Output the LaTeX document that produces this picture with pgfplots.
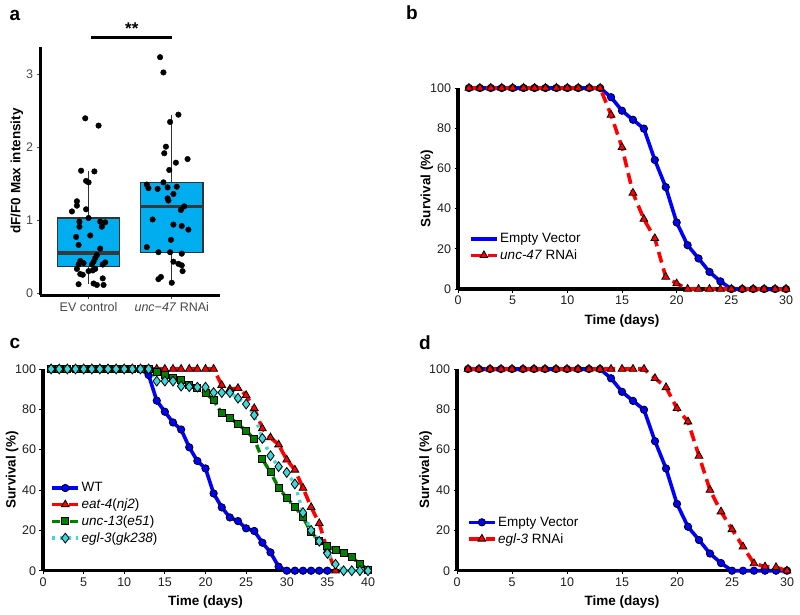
\documentclass[border=0pt]{standalone}
\usepackage{fontspec}
\setmainfont{Liberation Sans}
\usepackage{pgfplots}
\pgfplotsset{compat=1.18}
\usepgfplotslibrary{statistics}
\definecolor{boxblue}{RGB}{0,174,239}
\definecolor{cgreen}{RGB}{0,128,0}
\definecolor{ccyan}{RGB}{64,214,214}

\pgfplotstableread{
x y
1 100
2 100
3 100
4 100
5 100
6 100
7 100
8 100
9 100
10 100
11 100
12 100
13 100
14 95.4
15 88.7
16 84.2
17 79.8
18 64.2
19 50.7
20 33.1
21 21.8
22 15.2
23 8.5
24 3.8
25 0
26 0
27 0
28 0
29 0
30 0
}\evtab

\pgfplotstableread{
x y
1 100
2 100
3 100
4 100
5 100
6 100
7 100
8 100
9 100
10 100
11 100
12 100
13 100
14 86.6
15 70.5
16 47.8
17 34.8
18 25.2
19 6.0
20 2.7
21 0
22 0
23 0
24 0
25 0
26 0
27 0
28 0
29 0
30 0
}\unctab

\pgfplotstableread{
x y
1 100
2 100
3 100
4 100
5 100
6 100
7 100
8 100
9 100
10 100
11 100
12 100
13 97
14 84.3
15 78.8
16 73.5
17 70
18 61.2
19 54.4
20 50.7
21 38.3
22 31.4
23 26.4
24 24.6
25 21
26 19.7
27 13.9
28 9.1
29 2
30 0
31 0
32 0
33 0
34 0
35 0
}\wttab

\pgfplotstableread{
x y
1 100
2 100
3 100
4 100
5 100
6 100
7 100
8 100
9 100
10 100
11 100
12 100
13 100
14 100
15 100
16 100
17 100
18 100
19 100
20 100
21 100
22 92
23 90
24 90.5
25 87
26 80.5
27 70.5
28 66
29 62.5
30 55
31 50
32 41
33 31.5
34 23.5
35 10
36 0
}\eattab

\pgfplotstableread{
x y
1 100
2 100
3 100
4 100
5 100
6 100
7 100
8 100
9 100
10 100
11 100
12 100
13 100
14 98.7
15 97
16 95.5
17 94.5
18 92
19 90.5
20 88
21 84.6
22 78
23 76
24 72.6
25 69.4
26 65.3
27 55.3
28 48.8
29 41.2
30 36
31 31.7
32 26.6
33 19
34 14.7
35 12.2
36 10.1
37 9
38 6.7
39 3.4
40 0.5
}\unctthtab

\pgfplotstableread{
x y
1 100
2 100
3 100
4 100
5 100
6 100
7 100
8 100
9 100
10 100
11 100
12 100
13 100
14 94
15 94
16 94
17 91.5
18 91.2
19 91
20 91
21 88.3
22 88.3
23 88.3
24 85.5
25 82.6
26 77.2
27 65.6
28 57
29 51.6
30 48.7
31 43
32 28.8
33 20
34 14.6
35 8.6
36 3.2
37 0
38 0
39 0
40 0
}\egltab

\pgfplotstableread{
x y
1 100
2 100
3 100
4 100
5 100
6 100
7 100
8 100
9 100
10 100
11 100
12 100
13 100
14 100
15 100
16 100
17 100
18 95.4
19 90.9
20 80.5
21 73.9
22 56.9
23 40
24 29.3
25 20.5
26 11.9
27 3.6
28 2
29 1.7
30 0
}\eglrnaitab

\pgfplotsset{
  panel/.style={
    scale only axis, anchor=south west, clip=false,
    axis x line*=bottom, axis y line*=left,
    axis line style={-, line width=3.3pt, black},
    tick style={black, line width=0.9pt},
    major tick length=3.5pt,
    tick align=outside,
    ticklabel style={font=\fontsize{12.5}{14}\selectfont, text=black!88},
    /pgf/number format/assume math mode=true,
    label style={font=\bfseries\fontsize{13.5}{15}\selectfont},
    legend style={draw=none, fill=none, font=\fontsize{13.5}{15}\selectfont,
      row sep=2.5pt, inner sep=0pt, anchor=north west,
      nodes={inner sep=1.5pt}},
    legend cell align=left,
    legend image code/.code={\draw[mark repeat=2,mark phase=2,##1] plot coordinates {(0pt,0pt) (13pt,0pt) (26pt,0pt)};},
  },
  surv/.style={panel, xmin=0, ymin=0, ymax=100, ytick={0,20,...,100},
    ylabel={Survival (\%)}, xlabel={Time (days)},
    ylabel style={at={(axis description cs:-0.095,0.5)}, anchor=center},
    xlabel style={at={(axis description cs:0.5,-0.157)}, anchor=center},
  },
  bluel/.style={blue, line width=3.6pt, mark=*, mark size=3.7pt,
    mark options={solid, draw=black, line width=0.8pt, fill=blue}},
  redl/.style={red, line width=3.6pt, dash pattern=on 11pt off 6pt, mark=triangle*, mark size=4.5pt,
    mark options={solid, draw=black, line width=0.8pt, fill=red}},
  greenl/.style={cgreen, line width=3.4pt, dash pattern=on 8pt off 4pt on 2pt off 4pt, mark=square*, mark size=3.5pt,
    mark options={solid, draw=black, line width=0.8pt, fill=cgreen}},
  cyanl/.style={ccyan, line width=3.4pt, dash pattern=on 3pt off 5pt, mark=diamond*, mark size=4.9pt,
    mark options={solid, draw=black, line width=0.8pt, fill=ccyan}},
}

\begin{document}
\begin{tikzpicture}
\path[use as bounding box] (0,0) rectangle (800pt,614pt);

% panel labels
\node[font=\bfseries\fontsize{19}{19}\selectfont] at (15pt,599pt) {a};
\node[font=\bfseries\fontsize{19}{19}\selectfont] at (412pt,601pt) {b};
\node[font=\bfseries\fontsize{19}{19}\selectfont] at (15pt,271pt) {c};
\node[font=\bfseries\fontsize{19}{19}\selectfont] at (425pt,271pt) {d};

% ---------------- panel a ----------------
\begin{axis}[panel, at={(40pt,319pt)}, width=180pt, height=248pt,
  xmin=0.416, xmax=2.58, ymin=-0.028, ymax=3.38,
  axis line style={-, line width=3pt, black},
  tick style={black!70, line width=0.9pt},
  xtick={1,2}, xticklabels={EV control, \textit{unc−47} RNAi},
  ytick={0,1,2,3},
  ticklabel style={font=\fontsize{12.5}{14}\selectfont, text=black!72},
  ylabel={dF/F0 Max intensity},
  ylabel style={at={(axis description cs:-0.128,0.5)}, anchor=center},
  boxplot/draw direction=y,
  boxplot/every median/.style={line width=3.2pt, draw=black!78},
  boxplot/box extend=0.75,
  boxplot/whisker extend=0,
]
\addplot[boxplot prepared={lower whisker=0.13, lower quartile=0.36, median=0.55,
  upper quartile=1.03, upper whisker=1.67, draw position=1},
  fill=boxblue, draw=black!80, line width=1.4pt] coordinates {};
\addplot[boxplot prepared={lower whisker=0.15, lower quartile=0.56, median=1.19,
  upper quartile=1.52, upper whisker=2.45, draw position=2},
  fill=boxblue, draw=black!80, line width=1.4pt] coordinates {};
\addplot[only marks, mark=*, mark size=2.8pt, black] coordinates {
(0.96,2.40) (1.12,2.30) (0.91,1.68) (1.07,1.67) (0.97,1.54) (1.00,1.52)
(0.86,1.26) (0.86,1.20) (0.80,1.12) (0.97,1.15) (1.00,1.03)
(0.89,0.98) (0.89,0.91) (1.14,0.98) (1.20,0.97) (1.16,0.91)
(0.85,0.77) (1.02,0.79) (0.88,0.66) (1.14,0.61)
(1.10,0.52) (1.08,0.48) (1.06,0.43) (1.04,0.39)
(0.90,0.44) (0.94,0.41) (0.88,0.39) (1.20,0.42) (1.17,0.39)
(0.86,0.33) (0.90,0.26) (0.93,0.25) (1.00,0.30) (1.05,0.31) (1.08,0.33)
(1.17,0.20) (0.88,0.12) (1.06,0.13) (1.10,0.11) (1.18,0.11)
};
\addplot[only marks, mark=*, mark size=2.8pt, black] coordinates {
(1.86,3.24) (1.90,3.03) (2.08,2.45) (1.98,2.35) (1.93,2.01) (1.91,1.92)
(2.19,1.84) (2.05,1.79) (1.97,1.69) (1.90,1.52) (1.70,1.49)
(1.72,1.44) (1.83,1.43) (1.95,1.45) (2.06,1.46) (2.02,1.36)
(1.95,1.30) (1.96,1.27) (2.15,1.19) (2.11,1.14) (1.77,1.01)
(2.02,0.94) (2.12,0.92) (2.20,0.87) (1.99,0.73) (1.70,0.63)
(1.84,0.56) (1.98,0.56) (2.12,0.54) (2.02,0.43) (2.08,0.40) (2.12,0.38)
(2.13,0.30) (1.84,0.19) (1.87,0.22) (2.00,0.14)
};
\draw[line width=3pt] (axis cs:1.03,3.51) -- (axis cs:2.006,3.51);
\node[font=\bfseries\fontsize{17}{17}\selectfont] at (axis cs:1.52,3.63) {**};
\end{axis}

% ---------------- panel b ----------------
\begin{axis}[surv, at={(458pt,325pt)}, width=328pt, height=201pt,
  xmax=30, xtick={0,5,...,30},
  xlabel style={at={(axis description cs:0.5,-0.16)}},
  legend style={at={(axis cs:1.0,28.5)}},
]
\addplot[bluel, legend image code/.code={\draw[blue, line width=3.6pt] (0pt,0pt) -- (26pt,0pt);}] table {\evtab};
\addlegendentry{Empty Vector}
\addplot[redl] table {\unctab};
\addlegendentry{\textit{unc-47} RNAi}
\end{axis}

% ---------------- panel c ----------------
\begin{axis}[surv, at={(43pt,43.3pt)}, width=325pt, height=201.7pt,
  xmax=40, xtick={0,5,...,40},
  legend style={at={(axis cs:0.9,44.5)}},
]
\addplot[bluel] table {\wttab};
\addlegendentry{WT}
\addplot[redl] table {\eattab};
\addlegendentry{\textit{eat-4}(\textit{nj2})}
\addplot[greenl] table {\unctthtab};
\addlegendentry{\textit{unc-13}(\textit{e51})}
\addplot[cyanl] table {\egltab};
\addlegendentry{\textit{egl-3}(\textit{gk238})}
\end{axis}

% ---------------- panel d ----------------
\begin{axis}[surv, at={(457pt,43.3pt)}, width=330pt, height=201.7pt,
  xmax=30, xtick={0,5,...,30},
  legend style={at={(axis cs:0.9,27.5)}},
]
\addplot[bluel] table {\evtab};
\addlegendentry{Empty Vector}
\addplot[redl] table {\eglrnaitab};
\addlegendentry{\textit{egl-3} RNAi}
\end{axis}
\end{tikzpicture}
\end{document}
